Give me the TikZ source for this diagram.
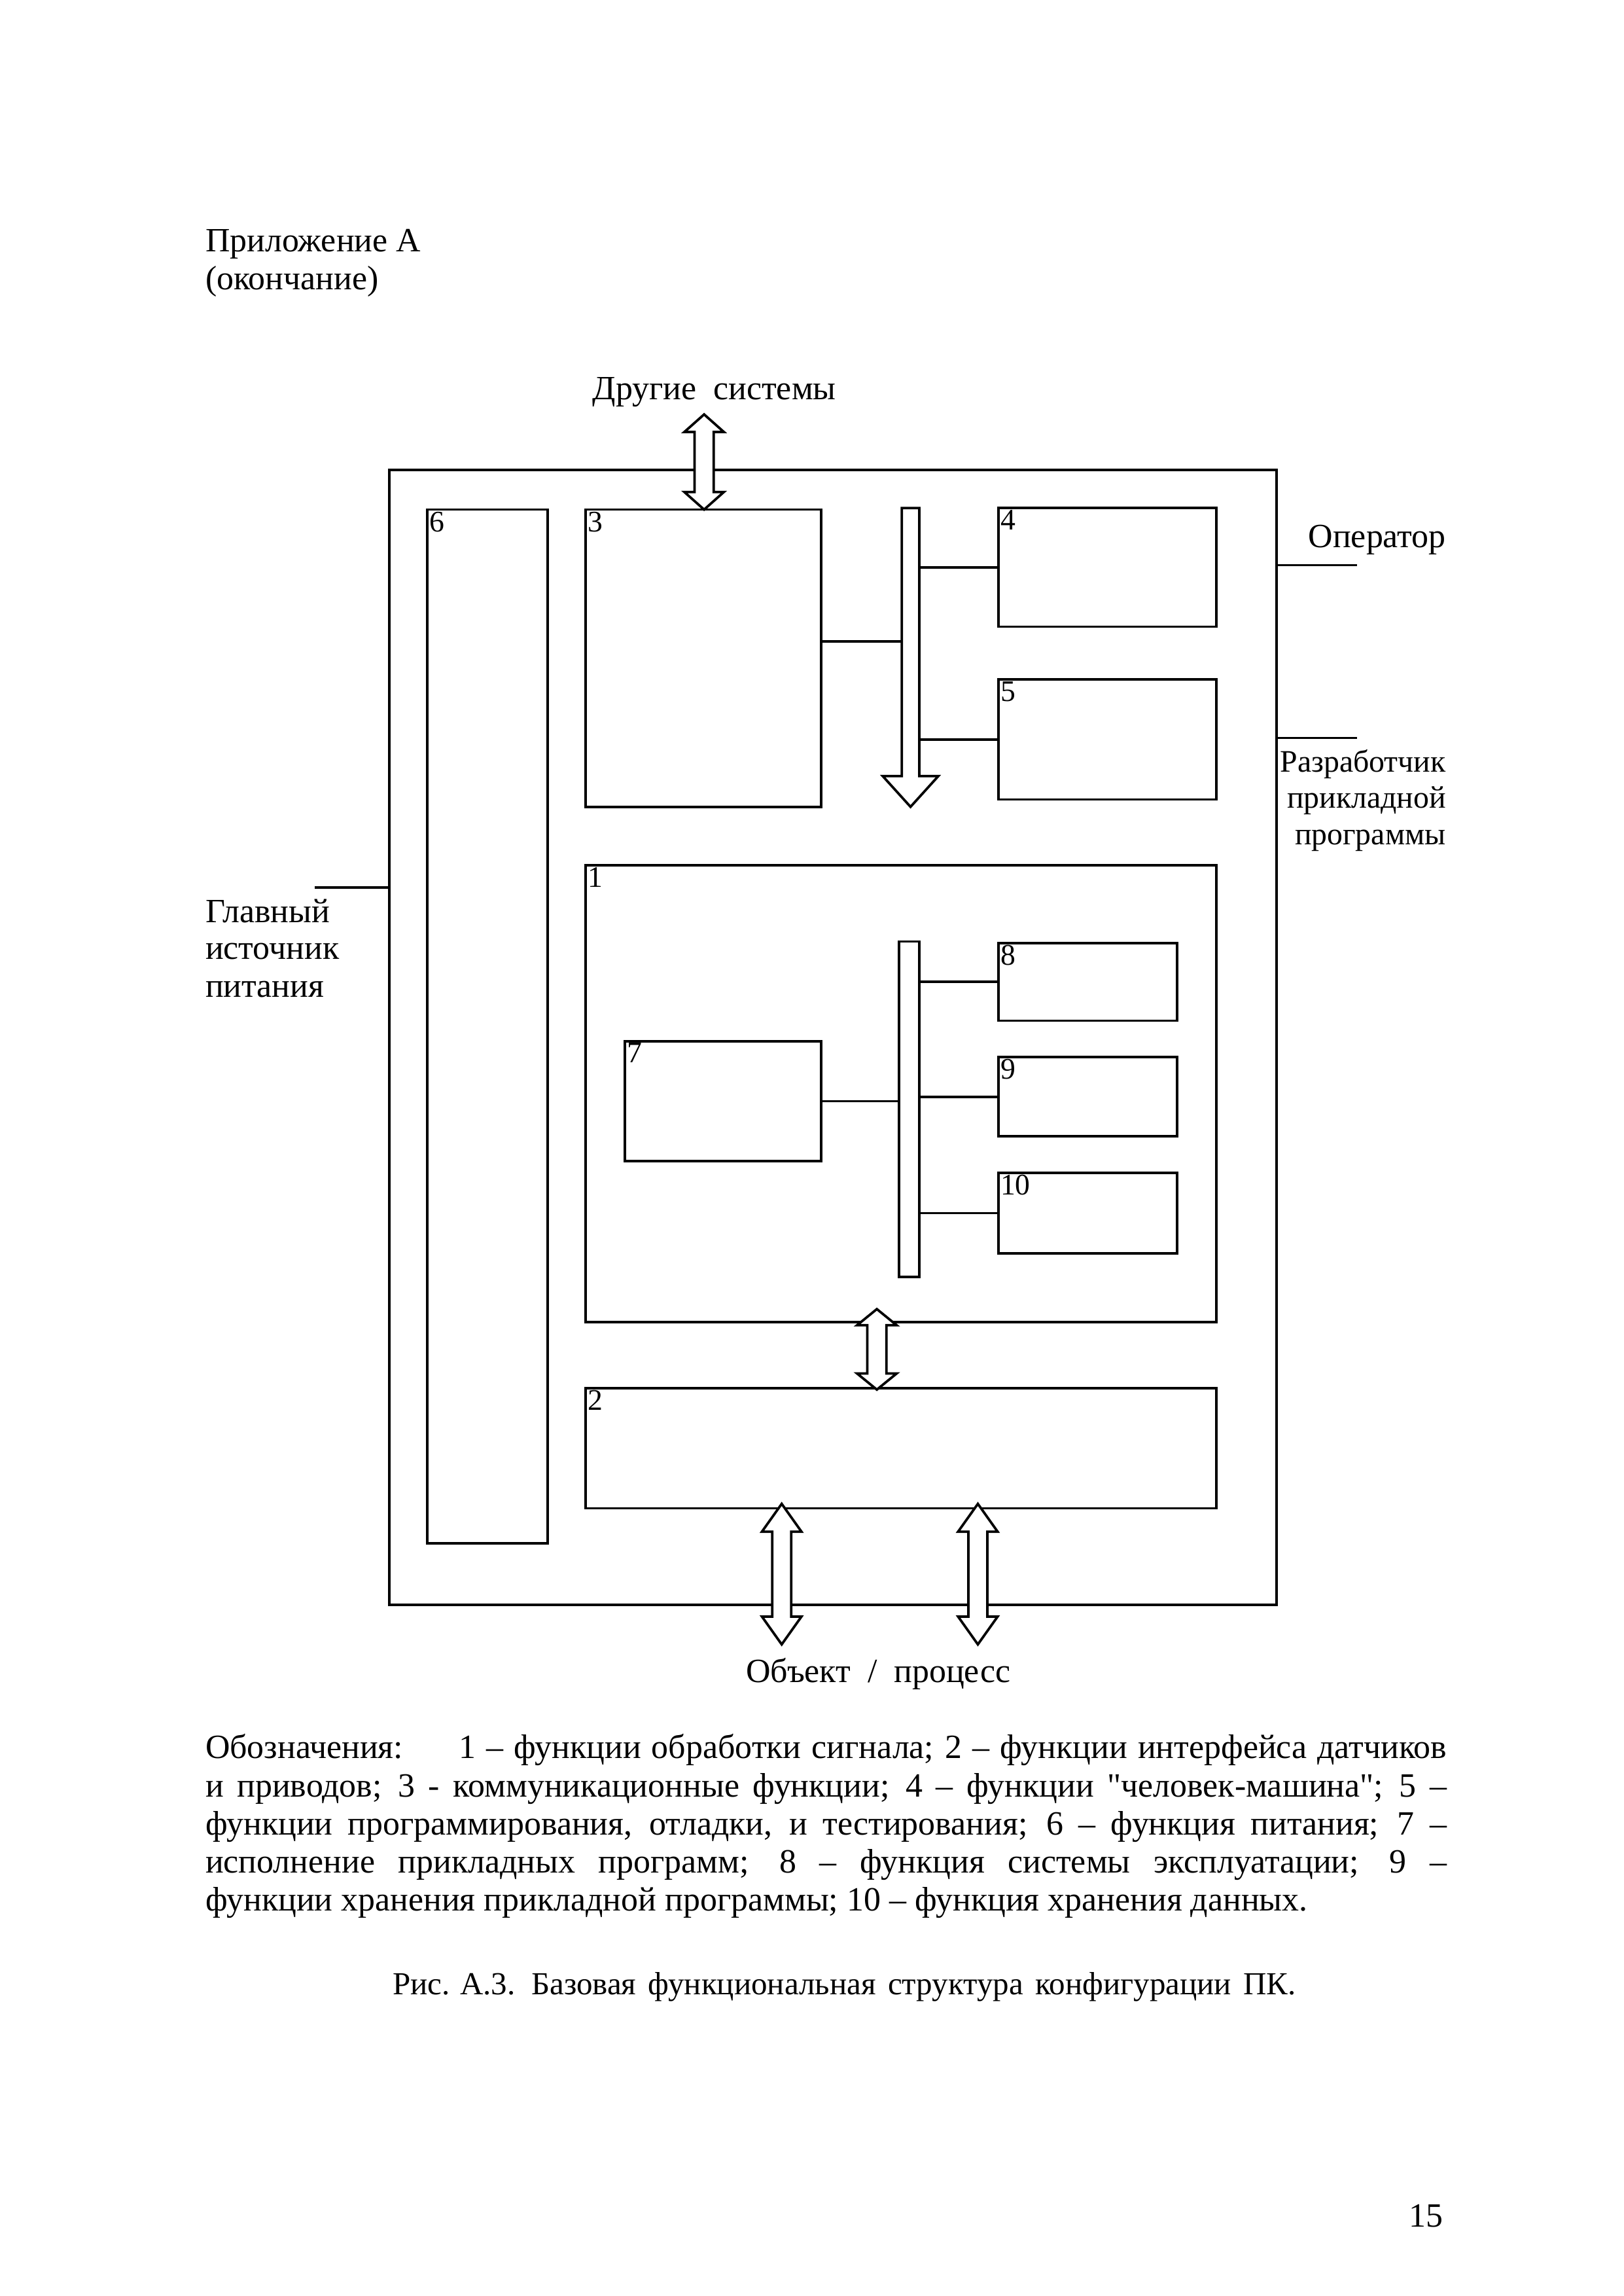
\documentclass[tikz,border=0pt]{standalone}
\usepackage{fontspec}
\setmainfont{Liberation Serif}[Ligatures=TeXOff]
\usetikzlibrary{fit,calc}
\newlength\ux
\setlength\ux{0.018936cm}
% double hollow arrow: x, ytop, ybottom, head length
\newcommand\dblarr[4]{%
  \draw[arr] (#1-6.5,#2+#4) -- (#1-13.5,#2+#4) -- (#1,#2) -- (#1+13.5,#2+#4) -- (#1+6.5,#2+#4)
    -- (#1+6.5,#3-#4) -- (#1+13.5,#3-#4) -- (#1,#3) -- (#1-13.5,#3-#4) -- (#1-6.5,#3-#4) -- cycle;}
\newcommand\legline[3]{\node[txt, anchor=base west] (#1) at (140,#2) {\makebox[848\ux][s]{#3}};}
\begin{document}
\begin{tikzpicture}[x=0.018936cm,y=-0.018936cm,
  box/.style={draw, line width=0.9pt, inner sep=0pt, outer sep=0pt},
  num/.style={anchor=north west, inner sep=0.6pt, font=\fontsize{11}{11}\selectfont},
  txt/.style={inner sep=0pt, font=\fontsize{12.5}{14}\selectfont},
  nar/.style={inner sep=0pt, font=\fontsize{11.5}{14}\selectfont},
  capt/.style={inner sep=0pt, font=\fontsize{11.8}{14}\selectfont},
  ln/.style={line width=0.9pt},
  arr/.style={draw, line width=0.9pt, fill=white, line join=miter}]
\useasboundingbox (0,0) rectangle (1109,1568);

% page header
\node[txt, anchor=base west] (app) at (140,172) {Приложение А};
\node[txt, anchor=base west] (app2) at (140,198) {(окончание)};

% outer box and blocks
\node[box, fit={(266,321) (872,1096)}] (outer) {};
\node[box, fit={(292,348) (374,1054)}] (b6) {};
\node[box, fit={(400,348) (561,551)}] (b3) {};
\node[box, fit={(682,347) (831,428)}] (b4) {};
\node[box, fit={(682,464) (831,546)}] (b5) {};
\node[box, fit={(400,591) (831,903)}] (b1) {};
\node[box, fit={(427,711) (561,793)}] (b7) {};
\node[box, fit={(614,643) (628,872)}] (bus2) {};
\node[box, fit={(682,644) (804,697)}] (b8) {};
\node[box, fit={(682,722) (804,776)}] (b9) {};
\node[box, fit={(682,801) (804,856)}] (b10) {};
\node[box, fit={(400,948) (831,1030)}] (b2) {};

% numbers
\node[num] at (b6.north west) {6};
\node[num] at (b3.north west) {3};
\node[num] at (b4.north west) {4};
\node[num] at (b5.north west) {5};
\node[num] at (b1.north west) {1};
\node[num] at (b7.north west) {7};
\node[num] at (b8.north west) {8};
\node[num] at (b9.north west) {9};
\node[num] at (b10.north west) {10};
\node[num] at (b2.north west) {2};

% bus arrow 1
\coordinate (bus1L) at (616,347);
\coordinate (bus1R) at (628,347);
\draw[arr] (bus1L) -- (bus1R) -- (628,530) -- (641,530) -- (622,551) -- (603,530) -- (616,530) -- cycle;
\draw[ln] (b3.east |- 0,438) -- (bus1L |- 0,438);
\draw[ln] (b4.west) -- (b4.west -| bus1R);
\draw[ln] (b5.west) -- (b5.west -| bus1R);

% bus 2 links
\draw[ln] (b7.east) -- (b7.east -| bus2.west);
\draw[ln] (b8.west) -- (b8.west -| bus2.east);
\draw[ln] (b9.west) -- (b9.west -| bus2.east);
\draw[ln] (b10.west) -- (b10.west -| bus2.east);

% double arrows
\dblarr{481}{283}{348}{12}
\dblarr{599}{894}{949}{11}
\dblarr{534}{1027}{1123}{19}
\dblarr{668}{1027}{1123}{19}

% external labels
\node[txt, anchor=base] (other) at (488,273) {Другие\ \ системы};
\node[txt, anchor=base east] (oper) at (988,374) {Оператор};
\coordinate (operE) at (927,386);
\draw[ln] (outer.east |- operE) -- (operE);
\coordinate (devE) at (927,504);
\draw[ln] (outer.east |- devE) -- (devE);
\node[nar, anchor=base east] (dev1) at (988,527) {Разработчик};
\node[nar, anchor=base east] (dev2) at (988,552) {прикладной};
\node[nar, anchor=base east] (dev3) at (988,577) {программы};

\coordinate (pwrW) at (215,606);
\draw[ln] (pwrW) -- (outer.west |- pwrW);
\node[txt, anchor=base west] (pwr1) at (140,630) {Главный};
\node[txt, anchor=base west] (pwr2) at (140,655) {источник};
\node[txt, anchor=base west] (pwr3) at (140,681) {питания};

\node[txt, anchor=base] (obj) at (600,1149) {Объект\ \ /\ \ процесс};

% legend
\legline{l1}{1201}{Обозначения:\hspace{1.2em} 1 – функции обработки сигнала; 2 – функции интерфейса датчиков}
\legline{l2}{1227}{и приводов; 3 - коммуникационные функции; 4 – функции "человек-машина"; 5 –}
\legline{l3}{1253}{функции программирования, отладки, и тестирования; 6 – функция питания; 7 –}
\legline{l4}{1279}{исполнение прикладных программ; 8 – функция системы эксплуатации; 9 –}
\node[txt, anchor=base west] (l5) at (140,1305) {функции хранения прикладной программы; 10 – функция хранения данных.};

\node[capt, anchor=base west] (cap) at (268,1362) {\makebox[617\ux][s]{Рис. А.3. \ Базовая \ функциональная \ структура \ конфигурации \ ПК.}};
\node[txt, anchor=base east] (pg) at (986,1521) {15};
\end{tikzpicture}
\end{document}
